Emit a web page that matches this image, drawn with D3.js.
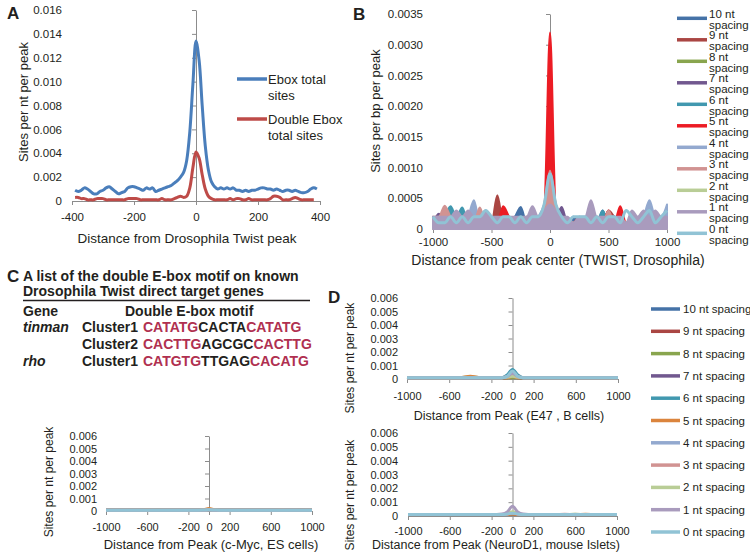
<!DOCTYPE html>
<html><head><meta charset="utf-8">
<script src="https://cdn.jsdelivr.net/npm/d3@7"></script>
<style>
body{margin:0;background:#fff;}
svg text{font-family:"Liberation Sans",Arial,sans-serif;fill:#231f20;}
</style></head><body>
<script>
// ---------------- DATA ----------------
// Panel A (x = -390..390 step 10)
const aEboxX = d3.range(-390, 391, 10);
const aEbox = [.0009,.0008,.0009,.0011,.0010,.0008,.0006,.0006,.0008,.0009,.0011,.0012,.0010,.0008,.0006,.0007,.0008,.0011,.0012,.0012,.0011,.0010,.0009,.0011,.0010,.0011,.0008,.0009,.0010,.0011,.0012,.0013,.0015,.0017,.0020,.0024,.0034,.0058,.0098,.0134,.0118,.0080,.0046,.0026,.0016,.0012,.0010,.0011,.0010,.0011,.0010,.0011,.0009,.0009,.0008,.0009,.0008,.0009,.0009,.0010,.0011,.0011,.0010,.0010,.0009,.0010,.0009,.0008,.0009,.0009,.0008,.0009,.0008,.0007,.0007,.0008,.0010,.0011,.0010];
const aDoubleX = d3.range(-390, 381, 10);
const aDouble = [.0003,.0003,.0002,.0002,.0001,.0001,.0001,.0002,.0002,.0002,.0001,.0001,.0001,.0001,.0001,.0001,.0001,.0002,.0002,.0002,.0002,.0001,.0001,.0001,.0001,.0001,.0001,.0001,.0002,.0001,.0001,.0001,.0002,.0003,.0004,.0003,.0004,.0011,.0028,.0041,.0036,.0022,.0010,.0004,.0002,.0001,.0001,.0001,.0001,.0001,.0002,.0001,.0002,.0002,.0001,.0001,.0002,.0001,.0001,.0001,.0001,.0001,.0001,.0002,.0004,.0004,.0003,.0001,.0001,.0001,.0002,.0003,.0002,.0001,.0001,.0001,.0001,.0001];
const aSeriesNames = ["Ebox total sites", "Double Ebox total sites"];
const aYTicks = [0,.002,.004,.006,.008,.010,.012,.014,.016];
const aYLabels = ["0","0.002","0.004","0.006","0.008","0.010","0.012","0.014","0.016"];
const aXTicks = [-400,-200,0,200,400];

// Panel B (x = -1000..1000 step 50)
const bX = d3.range(-1000, 1001, 50);
const spacingNames = ["10 nt","9 nt","8 nt","7 nt","6 nt","5 nt","4 nt","3 nt","2 nt","1 nt","0 nt"];
const b10 = [.0002,.0001,.0002,.0003,.0001,.0001,.0001,.0002,.0001,.0001,.0001,.0001,.0002,.0001,.0002,.00036,.0001,.0001,.0002,.0002,.0004,.0002,.0001,.0001,.0002,.0001,.0001,.0002,.0001,.0003,.0001,.0002,.0001,.0001,.0002,.0001,.0001,.0002,.0001,.0002,.0001];
const b9  = [.0001,.0001,.0001,.0002,.0001,.0001,.0002,.0001,.0001,.0001,.0001,.00055,.0001,.0001,.0001,.0001,.0002,.0001,.0002,.0003,.0006,.0003,.0002,.0001,.0001,.0001,.0001,.0001,.0002,.0001,.0003,.0002,.0001,.0001,.0001,.0001,.0002,.0001,.0001,.0001,.0001];
const b8  = [.0001,.0001,.0001,.0001,.0002,.0001,.0001,.0001,.0001,.0001,.0001,.0001,.0001,.0001,.0001,.0001,.0001,.0001,.0001,.0002,.0003,.0001,.0001,.0001,.0001,.0001,.0001,.0001,.0001,.0001,.0001,.0001,.0001,.0001,.0001,.0001,.0001,.0001,.0001,.0001,.0001];
const b7  = [.0001,.00025,.0001,.0001,.0001,.0001,.0001,.0001,.0001,.0002,.0001,.0001,.0001,.0001,.0001,.0001,.0001,.0001,.0001,.0002,.0004,.0002,.00036,.0001,.0001,.0001,.0001,.0001,.0001,.0001,.0001,.0001,.0001,.0001,.0001,.0001,.0001,.0001,.0001,.0001,.0001];
const b6  = [.0001,.0001,.0002,.00037,.0002,.00035,.0001,.0001,.0001,.0001,.0001,.0001,.0001,.0001,.0001,.0001,.0001,.0001,.0002,.0003,.0006,.0003,.0001,.0001,.0001,.0001,.0001,.0001,.0001,.0003,.0001,.0001,.0001,.0001,.0002,.0001,.0001,.0001,.0001,.0001,.0001];
const b5  = [.0001,.0001,.0001,.0001,.0001,.0001,.0001,.0001,.0001,.0001,.0001,.0001,.00037,.0002,.0001,.0001,.0001,.0001,.0002,.0003,.0032,.0003,.0002,.0001,.0001,.0002,.0001,.0001,.0001,.0001,.0003,.0001,.00037,.0001,.0001,.0001,.0001,.0001,.0001,.0001,.0001];
const b4  = [.0001,.0002,.0001,.0001,.0001,.0001,.0002,.00047,.0001,.0002,.0001,.0001,.0001,.0001,.0001,.0001,.0001,.0001,.0002,.0004,.0008,.0004,.0002,.0001,.0001,.0001,.0001,.0001,.0001,.0001,.0001,.0001,.0001,.0001,.0002,.0001,.0002,.00047,.0002,.0002,.0004];
const b3  = [.0002,.0002,.00038,.0002,.0001,.0001,.0001,.0001,.00035,.0001,.0001,.0001,.0001,.0001,.0001,.0001,.0002,.0001,.0001,.0004,.00095,.0004,.0001,.0001,.0001,.0001,.0001,.0001,.0001,.0001,.0003,.0001,.0002,.0001,.0001,.0001,.0001,.0001,.0001,.0001,.0001];
const b2  = [.0001,.0001,.0001,.0001,.0001,.0001,.0001,.0001,.0001,.0001,.0001,.0001,.0001,.0001,.0001,.0001,.0001,.0001,.0001,.0002,.0003,.0002,.0001,.0001,.0001,.0001,.0001,.0001,.0001,.0001,.0001,.0001,.0001,.0001,.0001,.0001,.0001,.0001,.0001,.0001,.0001];
const b1  = [.0002,.0002,.0002,.0002,.0003,.0002,.0003,.0002,.0002,.0003,.0002,.0002,.0002,.0002,.0002,.0002,.0002,.00037,.0002,.0003,.0004,.0003,.0002,.0002,.0001,.0002,.0002,.00047,.0002,.0002,.0002,.0002,.0002,.0001,.0003,.0002,.0003,.0002,.0003,.0002,.0002];
const b0  = [.0002,.0001,.0001,.0002,.0001,.0002,.0001,.0002,.0002,.0003,.0002,.0001,.0002,.0002,.0001,.0002,.0001,.0002,.0002,.0004,.0009,.0004,.0002,.0001,.0002,.0002,.0002,.0001,.0002,.0001,.0002,.0002,.0001,.0003,.0002,.0001,.0002,.0003,.0001,.0002,.0003];
const bYTicks = [0,.0005,.0010,.0015,.0020,.0025,.0030,.0035];
const bYLabels = ["0","0.0005","0.0010","0.0015","0.0020","0.0025","0.0030","0.0035"];
const bXTicks = [-1000,-500,0,500,1000];

// Panels c-Myc / E47 / NeuroD1
const dX = [-1000,-900,-800,-700,-600,-500,-400,-300,-200,-100,-50,0,50,100,200,300,400,500,600,700,800,900,1000];
const e47_10 = [.0001,.0001,.0001,.00012,.0001,.0001,.0001,.0001,.0001,.0001,.00012,.00015,.00012,.0001,.0001,.0001,.0001,.0001,.0001,.0001,.0001,.00012,.0001];
const e47_9  = [.0001,.00008,.0001,.0001,.0001,.0001,.0001,.0001,.0001,.0001,.0001,.00015,.0001,.0001,.0001,.0001,.0001,.0001,.0001,.0001,.0001,.0001,.0001];
const e47_8  = [.00012,.0001,.0001,.0001,.0001,.0001,.00015,.0001,.0001,.0001,.0001,.0001,.0001,.0001,.0001,.0001,.0001,.0001,.0001,.0001,.0001,.0001,.0001];
const e47_7  = [.0001,.0001,.0001,.0001,.0001,.0001,.0001,.0001,.0001,.0001,.0002,.0003,.0002,.0001,.0001,.0001,.0001,.0001,.0001,.0001,.0001,.0001,.0001];
const e47_6  = [.0001,.0001,.0001,.0001,.0001,.0001,.0001,.0001,.0001,.0001,.0003,.0007,.0003,.0001,.0001,.0001,.0001,.0001,.0001,.0001,.0001,.0001,.0001];
const e47_5  = [.0001,.0001,.0001,.0001,.0001,.0001,.0002,.0001,.0001,.0001,.0001,.0002,.0001,.0001,.0001,.0001,.0001,.0001,.0001,.0001,.0001,.0001,.0001];
const e47_4  = [.0001,.0001,.0001,.0001,.0001,.0001,.0001,.0001,.0001,.0001,.0002,.0004,.0002,.0001,.0001,.0001,.0001,.0001,.0001,.0001,.0001,.0001,.0001];
const e47_3  = [.0001,.0001,.0001,.0001,.0001,.0001,.0001,.0001,.0001,.0001,.00015,.0002,.00015,.0001,.0001,.0001,.0001,.0001,.0001,.0001,.0001,.0001,.0001];
const e47_2  = [.0001,.0001,.0001,.0001,.0001,.0001,.0001,.0001,.0001,.0001,.00015,.0002,.00015,.0001,.0001,.0001,.0001,.0001,.0001,.0001,.0001,.0001,.0001];
const e47_1  = [.0001,.0001,.0001,.0001,.0001,.0001,.0001,.0001,.0001,.0001,.0002,.0004,.0002,.0001,.0001,.0001,.0001,.0001,.0001,.0001,.0001,.0001,.0001];
const e47_0  = [.0001,.0001,.0001,.0001,.0001,.0001,.0001,.0001,.0001,.0001,.0002,.0006,.0002,.0001,.0001,.0001,.0001,.0001,.0001,.0001,.0001,.0001,.0001];

const nd_10 = [.0001,.0001,.0001,.0001,.0001,.0001,.0001,.0001,.0001,.0001,.0001,.00015,.0001,.0001,.0001,.0001,.0001,.0001,.0001,.0001,.0001,.0001,.0001];
const nd_9  = [.0001,.0001,.0001,.0001,.0001,.0001,.0001,.0001,.0001,.0001,.0001,.00015,.0001,.0001,.0001,.0001,.0001,.0001,.0001,.0001,.0001,.0001,.0001];
const nd_8  = [.0001,.0001,.0001,.0001,.0001,.0001,.0001,.0001,.0001,.0001,.0001,.0001,.0001,.0001,.0001,.0001,.0001,.0001,.00012,.0001,.0001,.0001,.0001];
const nd_7  = [.0001,.0001,.0001,.0001,.0001,.0001,.0001,.0001,.0001,.0001,.0001,.00015,.0001,.0001,.0001,.0001,.0001,.0001,.0001,.0001,.0001,.0001,.0001];
const nd_6  = [.0001,.0001,.0001,.0001,.0001,.0001,.0001,.0001,.0001,.0001,.0001,.0002,.0001,.0001,.0001,.0001,.0001,.0001,.0001,.0001,.0001,.0001,.0001];
const nd_5  = [.0001,.0001,.0001,.0001,.0001,.0001,.0001,.0001,.0001,.0001,.0001,.00015,.0001,.0001,.0001,.0001,.0001,.0001,.0001,.00012,.0001,.0001,.0001];
const nd_4  = [.0001,.0001,.0001,.0001,.0001,.0001,.0001,.0001,.0001,.0001,.00015,.0002,.00015,.0001,.0001,.0001,.0001,.0001,.0001,.0001,.0001,.0001,.0001];
const nd_3  = [.0001,.0001,.0001,.0001,.0001,.0001,.0001,.0001,.0001,.0001,.00015,.0002,.00015,.0001,.0001,.0001,.0001,.00012,.0001,.0001,.0001,.0001,.0001];
const nd_2  = [.0001,.0001,.0001,.0001,.0001,.0001,.0001,.0001,.0001,.0001,.0002,.0003,.0002,.0001,.0001,.0001,.0001,.0001,.0001,.0001,.0001,.0001,.0001];
const nd_1  = [.0001,.0001,.0001,.0001,.0001,.0001,.0001,.0001,.0001,.00015,.0003,.0007,.0003,.00015,.0001,.0001,.0001,.0001,.0001,.0001,.0001,.0001,.0001];
const nd_0  = [.0001,.0001,.0001,.0001,.0001,.0001,.0001,.0001,.0001,.0001,.00015,.0002,.00015,.0001,.0001,.0001,.0001,.0001,.0001,.0001,.0001,.0001,.0001];

const myc_10 = [.00006,.00006,.00006,.00006,.00006,.00006,.00006,.00006,.00006,.00006,.00006,.0001,.00006,.00006,.00006,.00006,.00006,.00006,.00006,.00006,.00006,.00006,.00006];
const myc_9  = [.00006,.00006,.00006,.00006,.00006,.00006,.00006,.00006,.00006,.00006,.00006,.0001,.00006,.00006,.00006,.00006,.00006,.00006,.00006,.00006,.00006,.00008,.00006];
const myc_8  = [.00006,.00006,.00006,.00006,.00006,.00008,.00006,.00006,.00006,.00006,.00008,.00015,.00008,.00006,.00006,.00006,.00006,.00006,.00006,.00006,.00006,.00006,.00006];
const myc_7  = [.00006,.00006,.00006,.00006,.00006,.00006,.00006,.00006,.00006,.00006,.00006,.0001,.00006,.00006,.00006,.00006,.00006,.00006,.00006,.00006,.00006,.00006,.00006];
const myc_6  = [.00006,.00006,.00006,.00006,.00006,.00006,.00006,.00006,.00006,.00006,.00006,.0001,.00006,.00006,.00006,.00006,.00006,.00006,.00006,.00006,.00006,.00006,.00006];
const myc_5  = [.00006,.00006,.00006,.00006,.00008,.00006,.00006,.00006,.00006,.00006,.0001,.0002,.0001,.00006,.00006,.00006,.00006,.00006,.00006,.00006,.00006,.00006,.00006];
const myc_4  = [.00006,.00006,.00006,.00006,.00006,.00006,.00006,.00006,.00006,.00006,.00006,.0001,.00006,.00006,.00006,.00006,.00006,.00006,.00006,.00006,.00006,.00006,.00006];
const myc_3  = [.00006,.00006,.00006,.00006,.00006,.00006,.00006,.00006,.00006,.00006,.00006,.0001,.00006,.00006,.00006,.00006,.00006,.00006,.00006,.00008,.00006,.00006,.00006];
const myc_2  = [.00006,.00006,.00006,.00006,.00006,.00006,.00006,.00006,.00006,.00006,.00006,.0001,.00006,.00006,.00006,.00006,.00006,.00006,.00006,.00006,.00006,.00006,.00006];
const myc_1  = [.00006,.00006,.00006,.00006,.00006,.00006,.00006,.00006,.00006,.00006,.00006,.0001,.00006,.00006,.00006,.00006,.00006,.00006,.00006,.00006,.00006,.00006,.00006];
const myc_0  = [.00006,.00006,.00006,.00006,.00006,.00006,.00006,.00006,.00006,.00006,.00008,.0001,.00008,.00006,.00006,.00006,.00006,.00006,.00006,.00006,.00006,.00006,.00006];

const dYTicks = [0,.001,.002,.003,.004,.005,.006];
const dYLabels = ["0","0.001","0.002","0.003","0.004","0.005","0.006"];
const dXTicks = [-1000,-600,-200,0,200,600,1000];

// Panel C table
const cTitle = ["A list of the double E-box motif on known", "Drosophila Twist direct target genes"];
const cHeader = ["Gene", "Double E-box motif"];
const cRows = [
  {gene:"tinman", cluster:"Cluster1", left:"CATATG", mid:"CACTA", right:"CATATG"},
  {gene:"",       cluster:"Cluster2", left:"CACTTG", mid:"AGCGC", right:"CACTTG"},
  {gene:"rho",    cluster:"Cluster1", left:"CATGTG", mid:"TTGAG", right:"CACATG"}
];

// ---------------- STYLE ----------------
const colA = ["#4a7ebb", "#be4b48"];
const colB = ["#4572a7","#aa4643","#89a54e","#71588f","#4198af","#ec1c24","#93a9cf","#d19392","#b9cd96","#a99bbd","#91c3d5"];
const colD = ["#4572a7","#aa4643","#89a54e","#71588f","#4198af","#db843d","#93a9cf","#d19392","#b9cd96","#a99bbd","#91c3d5"];
const AXIS = "#8c8c8c";

const svg = d3.select("body").append("svg").attr("width",750).attr("height",557);

function axes(g, x, y, o){
  const ax = g.append("g").attr("transform",`translate(0,${y(0)})`)
    .call(d3.axisBottom(x).tickValues(o.xTicks).tickFormat(d=>String(d)).tickSize(4).tickSizeOuter(0).tickPadding(o.xPad));
  const ay = g.append("g").attr("transform",`translate(${x(0)},0)`)
    .call(d3.axisLeft(y).tickValues(o.yTicks).tickFormat((d,i)=>o.yLabels[i]).tickSize(4).tickSizeOuter(0).tickPadding(x(0)-o.yRight-4));
  [ax,ay].forEach(a=>{
    a.attr("font-size",o.fs);
    a.selectAll("path,line").attr("stroke",AXIS);
  });
}
function label(txt, x, y, fs, opt={}){
  const t = svg.append("text").attr("x",x).attr("y",y).attr("font-size",fs)
    .attr("dy","0.35em").attr("text-anchor",opt.anchor||"middle").text(txt);
  if(opt.rotate) t.attr("transform",`rotate(-90,${x},${y})`);
  if(opt.bold) t.attr("font-weight","bold");
  return t;
}
const smooth = d3.curveMonotoneX;

// ---------------- PANEL A ----------------
{
  const x = d3.scaleLinear([-400,400],[72,320]);
  const y = d3.scaleLinear([0,0.016],[201,10]);
  const g = svg.append("g");
  axes(g, x, y, {xTicks:aXTicks, yTicks:aYTicks, yLabels:aYLabels, yRight:62, xPad:8, fs:11.5});
  const line = d3.line().x(d=>x(d[0])).y(d=>y(d[1])).curve(d3.curveCatmullRom);
  g.append("path").attr("d",line(aEboxX.map((v,i)=>[v,aEbox[i]]))).attr("fill","none").attr("stroke",colA[0]).attr("stroke-width",3);
  g.append("path").attr("d",line(aDoubleX.map((v,i)=>[v,aDouble[i]]))).attr("fill","none").attr("stroke",colA[1]).attr("stroke-width",3);
  [[79,["Ebox total","sites"]],[119,["Double Ebox","total sites"]]].forEach(([ly,lines],i)=>{
    svg.append("line").attr("x1",237).attr("x2",267).attr("y1",ly).attr("y2",ly).attr("stroke",colA[i]).attr("stroke-width",3.5);
    label(lines[0],268,ly,13,{anchor:"start"});
    label(lines[1],268,ly+16.5,13,{anchor:"start"});
  });
  label("Sites per nt per peak",23,102,13,{rotate:true});
  label("Distance from Drosophila Twist peak",187,238,13.5);
  label("A",7,13,17,{anchor:"start",bold:true});
}

// ---------------- PANEL B ----------------
{
  const x = d3.scaleLinear([-1000,1000],[433,667]);
  const y = d3.scaleLinear([0,0.0035],[229,14]);
  const g = svg.append("g");
  axes(g, x, y, {xTicks:bXTicks, yTicks:bYTicks, yLabels:bYLabels, yRight:423, xPad:5, fs:11.5});
  const series = [b10,b9,b8,b7,b6,b5,b4,b3,b2,b1,b0];
  const area = d3.area().x((d,i)=>x(bX[i])).y0(y(0)).y1(d=>y(d)).curve(smooth);
  const line = d3.line().x((d,i)=>x(bX[i])).y(d=>y(d)).curve(smooth);
  series.forEach((s,k)=>{
    if(k<10){
      g.append("path").attr("d",area(s)).attr("fill",colB[k]).attr("stroke",colB[k]).attr("stroke-width",2).attr("stroke-linejoin","round");
    } else {
      g.append("path").attr("d",line(s)).attr("fill","none").attr("stroke",colB[k]).attr("stroke-width",3);
    }
  });
  spacingNames.forEach((n,k)=>{
    const ly = 18.3 + k*21.5;
    svg.append("line").attr("x1",677).attr("x2",707).attr("y1",ly).attr("y2",ly).attr("stroke",colB[k]).attr("stroke-width",3.5);
    label(n,709,ly-4.5,11.5,{anchor:"start"});
    label("spacing",709,ly+6.5,11.5,{anchor:"start"});
  });
  label("Sites per bp per peak",375,111,13,{rotate:true});
  label("Distance from peak center (TWIST, Drosophila)",558,260,14);
  label("B",353,14,17,{anchor:"start",bold:true});
}

// ---------------- PANEL C (table) ----------------
{
  const fs = 14;
  label("C",7,276,17,{anchor:"start",bold:true});
  label(cTitle[0],23,276,fs,{anchor:"start",bold:true});
  label(cTitle[1],23,291,fs,{anchor:"start",bold:true});
  svg.append("line").attr("x1",23).attr("x2",310).attr("y1",300.5).attr("y2",300.5).attr("stroke","#231f20").attr("stroke-width",1.3);
  label(cHeader[0],23,311,fs,{anchor:"start",bold:true});
  label(cHeader[1],125,311,fs,{anchor:"start",bold:true});
  const rowY = [327,344,361];
  cRows.forEach((r,i)=>{
    if(r.gene) label(r.gene,23,rowY[i],fs,{anchor:"start",bold:true}).attr("font-style","italic");
    label(r.cluster,82,rowY[i],fs,{anchor:"start",bold:true});
    const t = label("",143,rowY[i],fs,{anchor:"start",bold:true});
    t.append("tspan").style("fill","#b03050").text(r.left);
    t.append("tspan").text(r.mid);
    t.append("tspan").style("fill","#b03050").text(r.right);
  });
}

// ---------------- small multi-series panels ----------------
function smallPanel(series, xr, yr, o){
  const x = d3.scaleLinear([-1000,1000],xr);
  const y = d3.scaleLinear([0,0.006],yr);
  const g = svg.append("g");
  axes(g, x, y, {xTicks:dXTicks, yTicks:dYTicks, yLabels:dYLabels, yRight:o.yRight, xPad:o.xPad, fs:11});
  const line = d3.line().x((d,i)=>x(dX[i])).y(d=>y(d)).curve(smooth);
  series.forEach((s,k)=>{
    g.append("path").attr("d",line(s)).attr("fill","none").attr("stroke",colD[k]).attr("stroke-width",3).attr("stroke-linejoin","round");
  });
  label(o.ylab,o.ylx,o.yly,12,{rotate:true});
  label(o.xlab,o.xlx,o.xly,o.xfs);
}
smallPanel([myc_10,myc_9,myc_8,myc_7,myc_6,myc_5,myc_4,myc_3,myc_2,myc_1,myc_0],[106,312],[511,436],
  {yRight:97, xPad:8, ylab:"Sites per nt per peak", ylx:49, yly:482, xlab:"Distance from Peak (c-Myc, ES cells)", xlx:211, xly:544, xfs:13});
smallPanel([e47_10,e47_9,e47_8,e47_7,e47_6,e47_5,e47_4,e47_3,e47_2,e47_1,e47_0],[407,618],[379,298],
  {yRight:398, xPad:9, ylab:"Sites per nt per peak", ylx:350, yly:358, xlab:"Distance from Peak (E47 , B cells)", xlx:509, xly:416, xfs:12.5});
smallPanel([nd_10,nd_9,nd_8,nd_7,nd_6,nd_5,nd_4,nd_3,nd_2,nd_1,nd_0],[408,617],[516,433],
  {yRight:398, xPad:7, ylab:"Sites per nt per peak", ylx:350, yly:495, xlab:"Distance from Peak (NeuroD1, mouse Islets)", xlx:496, xly:545, xfs:12.5});
label("D",328,297,17,{anchor:"start",bold:true});
spacingNames.forEach((n,k)=>{
  const ly = 309 + k*22.3;
  svg.append("line").attr("x1",651).attr("x2",680).attr("y1",ly).attr("y2",ly).attr("stroke",colD[k]).attr("stroke-width",3.5);
  label(n+" spacing",683,ly,11.5,{anchor:"start"});
});
</script></body></html>
